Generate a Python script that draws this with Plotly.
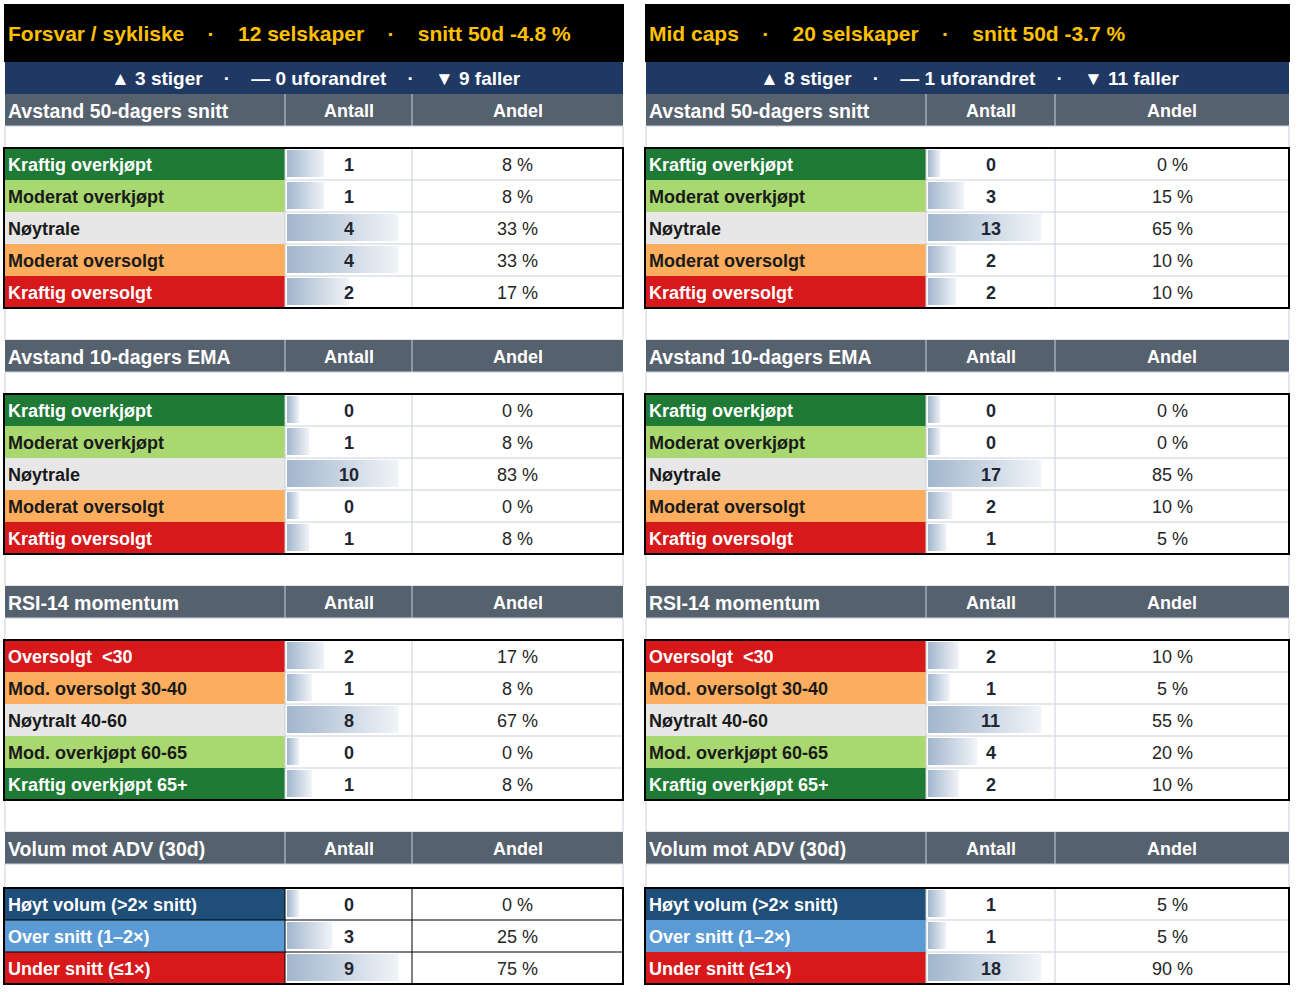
import plotly.graph_objects as go

# panel headings
panel_names = ["Forsvar / sykliske", "Mid caps"]
panel_companies = [12, 20]
panel_avg_50d = [-4.8, -3.7]
panel_up = [3, 8]
panel_flat = [0, 1]
panel_down = [9, 11]

# section titles and row labels
section_titles = ["Avstand 50-dagers snitt", "Avstand 10-dagers EMA",
                  "RSI-14 momentum", "Volum mot ADV (30d)"]
ma_labels = ["Kraftig overkjøpt", "Moderat overkjøpt", "Nøytrale",
             "Moderat oversolgt", "Kraftig oversolgt"]
rsi_labels = ["Oversolgt\u00a0\u00a0<30", "Mod. oversolgt 30-40", "Nøytralt 40-60",
              "Mod. overkjøpt 60-65", "Kraftig overkjøpt 65+"]
vol_labels = ["Høyt volum (>2× snitt)", "Over snitt (1–2×)", "Under snitt (≤1×)"]

# counts and shares, left panel / right panel
ma50_left_n = [1, 1, 4, 4, 2]
ma50_left_pct = [8, 8, 33, 33, 17]
ma50_right_n = [0, 3, 13, 2, 2]
ma50_right_pct = [0, 15, 65, 10, 10]

ema10_left_n = [0, 1, 10, 0, 1]
ema10_left_pct = [0, 8, 83, 0, 8]
ema10_right_n = [0, 0, 17, 2, 1]
ema10_right_pct = [0, 0, 85, 10, 5]

rsi_left_n = [2, 1, 8, 0, 1]
rsi_left_pct = [17, 8, 67, 0, 8]
rsi_right_n = [2, 1, 11, 4, 2]
rsi_right_pct = [10, 5, 55, 20, 10]

vol_left_n = [0, 3, 9]
vol_left_pct = [0, 25, 75]
vol_right_n = [1, 1, 18]
vol_right_pct = [5, 5, 90]

# colours
DKGREEN = "#1f7a36"
LTGREEN = "#a8d86f"
NEUTRAL = "#e7e7e7"
ORANGE = "#fdad5e"
RED = "#d7191c"
NAVY = "#1f4e79"
BLUE = "#5b9bd5"
WHITE_TXT = {DKGREEN, RED, NAVY, BLUE}
MA_COLORS = [DKGREEN, LTGREEN, NEUTRAL, ORANGE, RED]
RSI_COLORS = [RED, ORANGE, NEUTRAL, LTGREEN, DKGREEN]
VOL_COLORS = [NAVY, BLUE, RED]

TITLE_BG = "#000000"
TITLE_FG = "#ffc000"
SUB_BG = "#203864"
HEAD_BG = "#56616e"
GRID = "#c9d1db"
BAR_FROM = "#a2b6cd"
BAR_TO = "#f1f4f8"
NUM_FG = "#1f2733"
PCT_FG = "#262626"
FONT = "Liberation Sans, Arial, sans-serif"

sections = [
    (section_titles[0], ma_labels, MA_COLORS,
     [(ma50_left_n, ma50_left_pct), (ma50_right_n, ma50_right_pct)]),
    (section_titles[1], ma_labels, MA_COLORS,
     [(ema10_left_n, ema10_left_pct), (ema10_right_n, ema10_right_pct)]),
    (section_titles[2], rsi_labels, RSI_COLORS,
     [(rsi_left_n, rsi_left_pct), (rsi_right_n, rsi_right_pct)]),
    (section_titles[3], vol_labels, VOL_COLORS,
     [(vol_left_n, vol_left_pct), (vol_right_n, vol_right_pct)]),
]

# layout in pixels: (left edge, antall col start, andel col start, right edge)
panels_x = [(4, 285, 412, 623), (645, 926, 1055, 1289)]
ROW_H = 32
HEAD_H = 32
GAP_H = 32
blank_h = [22, 22, 22, 24]

shapes = []
annotations = []
traces = []


def rect(x0, y0, x1, y1, fill="rgba(0,0,0,0)", line=None, lw=0, layer="below"):
    shapes.append(dict(type="rect", xref="x", yref="y", x0=x0, y0=y0, x1=x1, y1=y1,
                       fillcolor=fill, line=dict(color=line or "rgba(0,0,0,0)", width=lw),
                       layer=layer))


def hline(x0, x1, y, color, lw=1):
    shapes.append(dict(type="line", xref="x", yref="y", x0=x0, x1=x1, y0=y, y1=y,
                       line=dict(color=color, width=lw), layer="above"))


def vline(x, y0, y1, color, lw=1):
    shapes.append(dict(type="line", xref="x", yref="y", x0=x, x1=x, y0=y0, y1=y1,
                       line=dict(color=color, width=lw), layer="above"))


def text(x, y, s, size=18, color=NUM_FG, bold=True, anchor="center"):
    annotations.append(dict(x=x, y=y, xref="x", yref="y", text=s, showarrow=False,
                            xanchor=anchor, yanchor="middle",
                            font=dict(family=FONT, size=size, color=color,
                                      weight="bold" if bold else "normal")))


sep = "\u00a0\u00a0\u00a0\u00a0·\u00a0\u00a0\u00a0\u00a0"
for p, (x0, c1, c2, x1) in enumerate(panels_x):
    # title band
    rect(x0, 4, x1 + 1, 62, fill=TITLE_BG)
    title = (f"{panel_names[p]}{sep}{panel_companies[p]} selskaper{sep}"
             f"snitt 50d {panel_avg_50d[p]:.1f} %")
    text(x0 + 2, 33, title, size=21, color=TITLE_FG, anchor="left")
    # up / flat / down band
    rect(x0 + 1, 62, x1, 94, fill=SUB_BG)
    sub = (f"▲ {panel_up[p]} stiger{sep}— {panel_flat[p]} uforandret{sep}"
           f"▼ {panel_down[p]} faller")
    text((x0 + x1) / 2 + 2, 78, sub, size=19, color="#ffffff")

    y = 94
    for s, (title_s, labels, colors, vals) in enumerate(sections):
        # header row
        rect(x0 + 1, y, x1, y + HEAD_H, fill=HEAD_BG)
        vline(c1, y, y + HEAD_H, GRID)
        vline(c2, y, y + HEAD_H, GRID)
        text(x0 + 2, y + HEAD_H / 2 + 1, title_s, size=19.5, color="#ffffff", anchor="left")
        text((c1 + c2) / 2, y + HEAD_H / 2 + 1, "Antall", size=18, color="#ffffff")
        text((c2 + x1) / 2, y + HEAD_H / 2 + 1, "Andel", size=18, color="#ffffff")
        y += HEAD_H
        # blank spacer
        rect(x0 + 1, y, x1, y + blank_h[s], fill="#ffffff", line=GRID, lw=1)
        y += blank_h[s]

        counts, pcts = vals[p]
        top = y
        nmax = max(counts)
        w = c2 - c1 - 3
        inner = "#000000" if (p == 0 and s == 3) else GRID
        for i, lab in enumerate(labels):
            r0, r1 = y, y + ROW_H
            rect(x0, r0, c1, r1, fill=colors[i])
            rect(c1, r0, x1, r1, fill="#ffffff")
            # data bar, length from the count
            blen = w * (0.1 + 0.8 * counts[i] / nmax)
            bx0, bx1 = c1 + 2, c1 + 2 + blen
            traces.append(go.Scatter(
                x=[bx0, bx1, bx1, bx0, bx0], y=[r0 + 2, r0 + 2, r1 - 3, r1 - 3, r0 + 2],
                mode="lines", line=dict(width=0), fill="toself",
                fillgradient=dict(type="horizontal",
                                  colorscale=[[0, BAR_FROM], [1, BAR_TO]]),
                hoverinfo="skip", showlegend=False))
            fg = "#ffffff" if colors[i] in WHITE_TXT else "#1a1a1a"
            text(x0 + 2, (r0 + r1) / 2 + 1, lab, size=18, color=fg, anchor="left")
            text((c1 + c2) / 2, (r0 + r1) / 2 + 1, str(counts[i]), size=18, color=NUM_FG)
            text((c2 + x1) / 2, (r0 + r1) / 2 + 1, f"{pcts[i]} %", size=18,
                 color=PCT_FG, bold=False)
            if i > 0:
                hline(c1 if inner == GRID else x0, x1, r0, inner)
            y = r1
        vline(c1, top, y, inner)
        vline(c2, top, y, inner)
        rect(x0, top, x1, y, line="#000000", lw=2, layer="above")
        # gap after the box
        if s < len(sections) - 1:
            rect(x0 + 1, y, x1, y + GAP_H, fill="#ffffff", line=GRID, lw=1)
            y += GAP_H

fig = go.Figure(traces)
fig.update_layout(
    width=1298, height=992,
    margin=dict(l=0, r=0, t=0, b=0),
    paper_bgcolor="#ffffff", plot_bgcolor="rgba(0,0,0,0)",
    xaxis=dict(range=[0, 1298], visible=False, fixedrange=True),
    yaxis=dict(range=[992, 0], visible=False, fixedrange=True),
    shapes=shapes, annotations=annotations,
    showlegend=False,
)
fig.write_html("out.html", config={"displayModeBar": False},
               post_script="document.body.style.margin='0';document.body.style.overflow='hidden';")
